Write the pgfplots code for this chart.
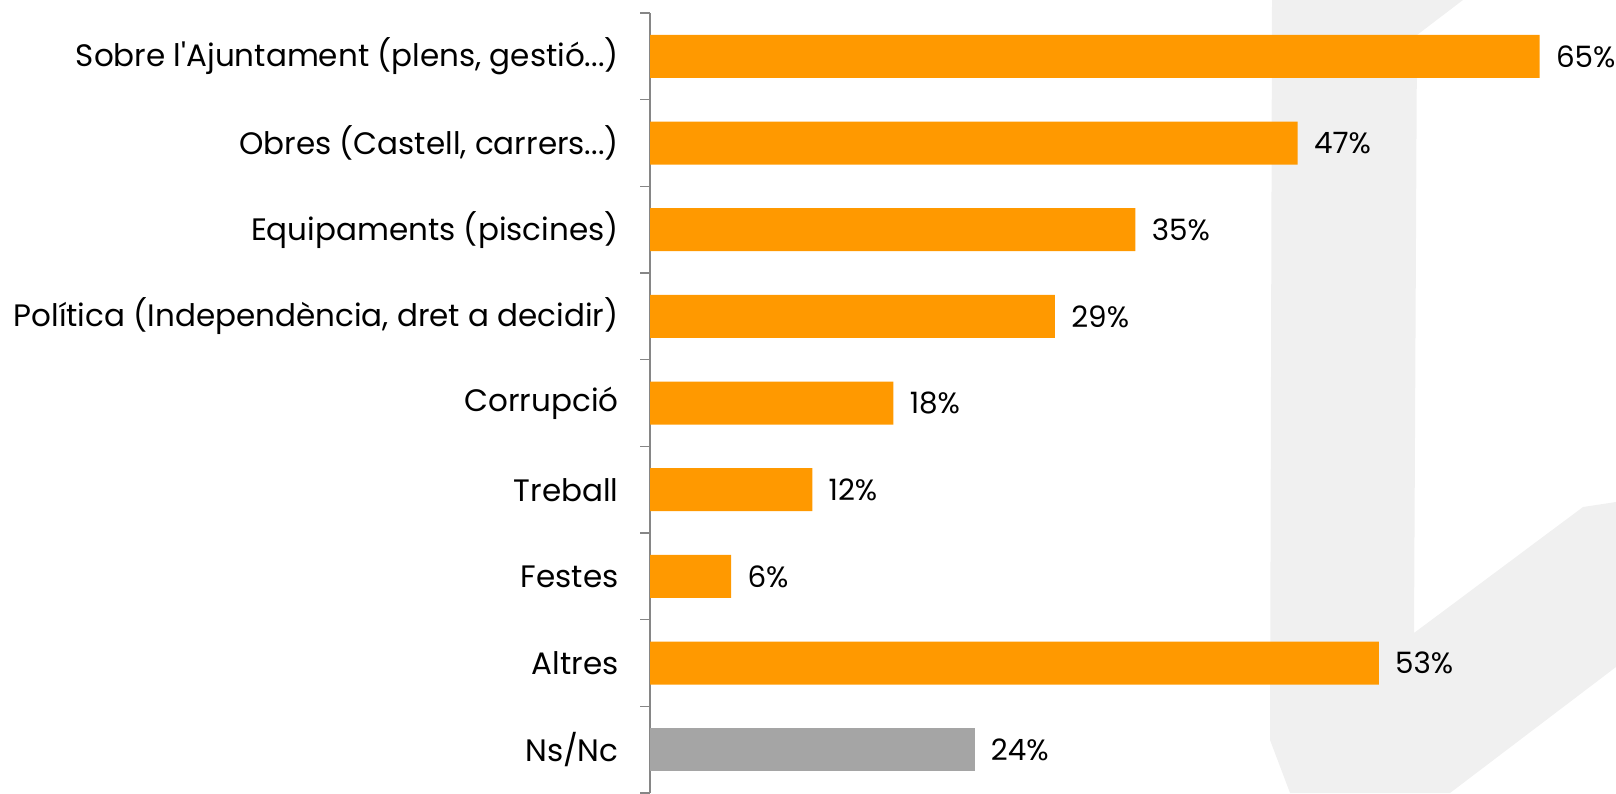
\documentclass[border=0pt]{standalone}
\usepackage{fontspec}
\setmainfont{Poppins}
\usepackage{pgfplots}
\pgfplotsset{compat=1.18}

\definecolor{barorange}{HTML}{FF9900}
\definecolor{bargray}{HTML}{A5A5A5}
\definecolor{axisgray}{HTML}{868686}
\definecolor{wmark}{HTML}{F0F0F0}

\newcommand{\catfont}{\fontsize{15.5}{18}\selectfont}
\newcommand{\valfont}{\fontsize{14.7}{17}\selectfont}
\newcommand{\ddd}{...}

\begin{document}
\begin{tikzpicture}
% faint logo in the background (pixel coordinates of the reference)
\begin{scope}[x=0.5pt,y=-0.5pt,yshift=396.5pt]
  \fill[wmark] (1272,0) -- (1463,0) -- (1417,35) -- (1414,633) -- (1583,507)
    -- (1616,502) -- (1616,667) -- (1450,793) -- (1290,793) -- (1270,740) -- cycle;
\end{scope}

\begin{axis}[
    at={(325pt,0pt)}, anchor=south west,
    scale only axis,
    width=446.875pt, height=390pt,
    xmin=0, xmax=65,
    ymin=-0.5, ymax=8.5,
    y dir=reverse,
    axis x line=none,
    axis y line*=left,
    axis line style={axisgray, line width=0.8pt},
    ytick={0,1,2,3,4,5,6,7,8},
    yticklabels={
      {Sobre l\textquotesingle Ajuntament (plens, gestió\ddd)},
      {Obres (Castell, carrers\ddd)},
      {Equipaments (piscines)},
      {Política (Independència, dret a decidir)},
      {Corrupció},
      {Treball},
      {Festes},
      {Altres},
      {Ns/Nc}},
    major tick length=0pt,
    minor ytick={-0.5,0.5,1.5,2.5,3.5,4.5,5.5,6.5,7.5,8.5},
    minor tick length=5pt,
    tick align=outside,
    tick style={axisgray, line width=0.8pt},
    yticklabel style={font=\catfont, inner sep=0pt, anchor=east, xshift=-15.5pt},
    xbar, bar width=21.5pt, bar shift=0pt,
    nodes near coords={\pgfplotspointmeta\%},
    point meta=explicit symbolic,
    nodes near coords style={font=\valfont, anchor=west, inner sep=0pt, xshift=8pt},
    clip=false,
  ]
  \addplot[fill=barorange, draw=none] coordinates {
    (64.7,0) [65]
    (47.1,1) [47]
    (35.3,2) [35]
    (29.45,3) [29]
    (17.7,4) [18]
    (11.8,5) [12]
    (5.9,6) [6]
    (53.0,7) [53]
  };
  \addplot[fill=bargray, draw=none] coordinates {
    (23.6,8) [24]
  };
\end{axis}

\pgfresetboundingbox
\path[use as bounding box] (0,0) rectangle (808pt,396.5pt);
\end{tikzpicture}
\end{document}
